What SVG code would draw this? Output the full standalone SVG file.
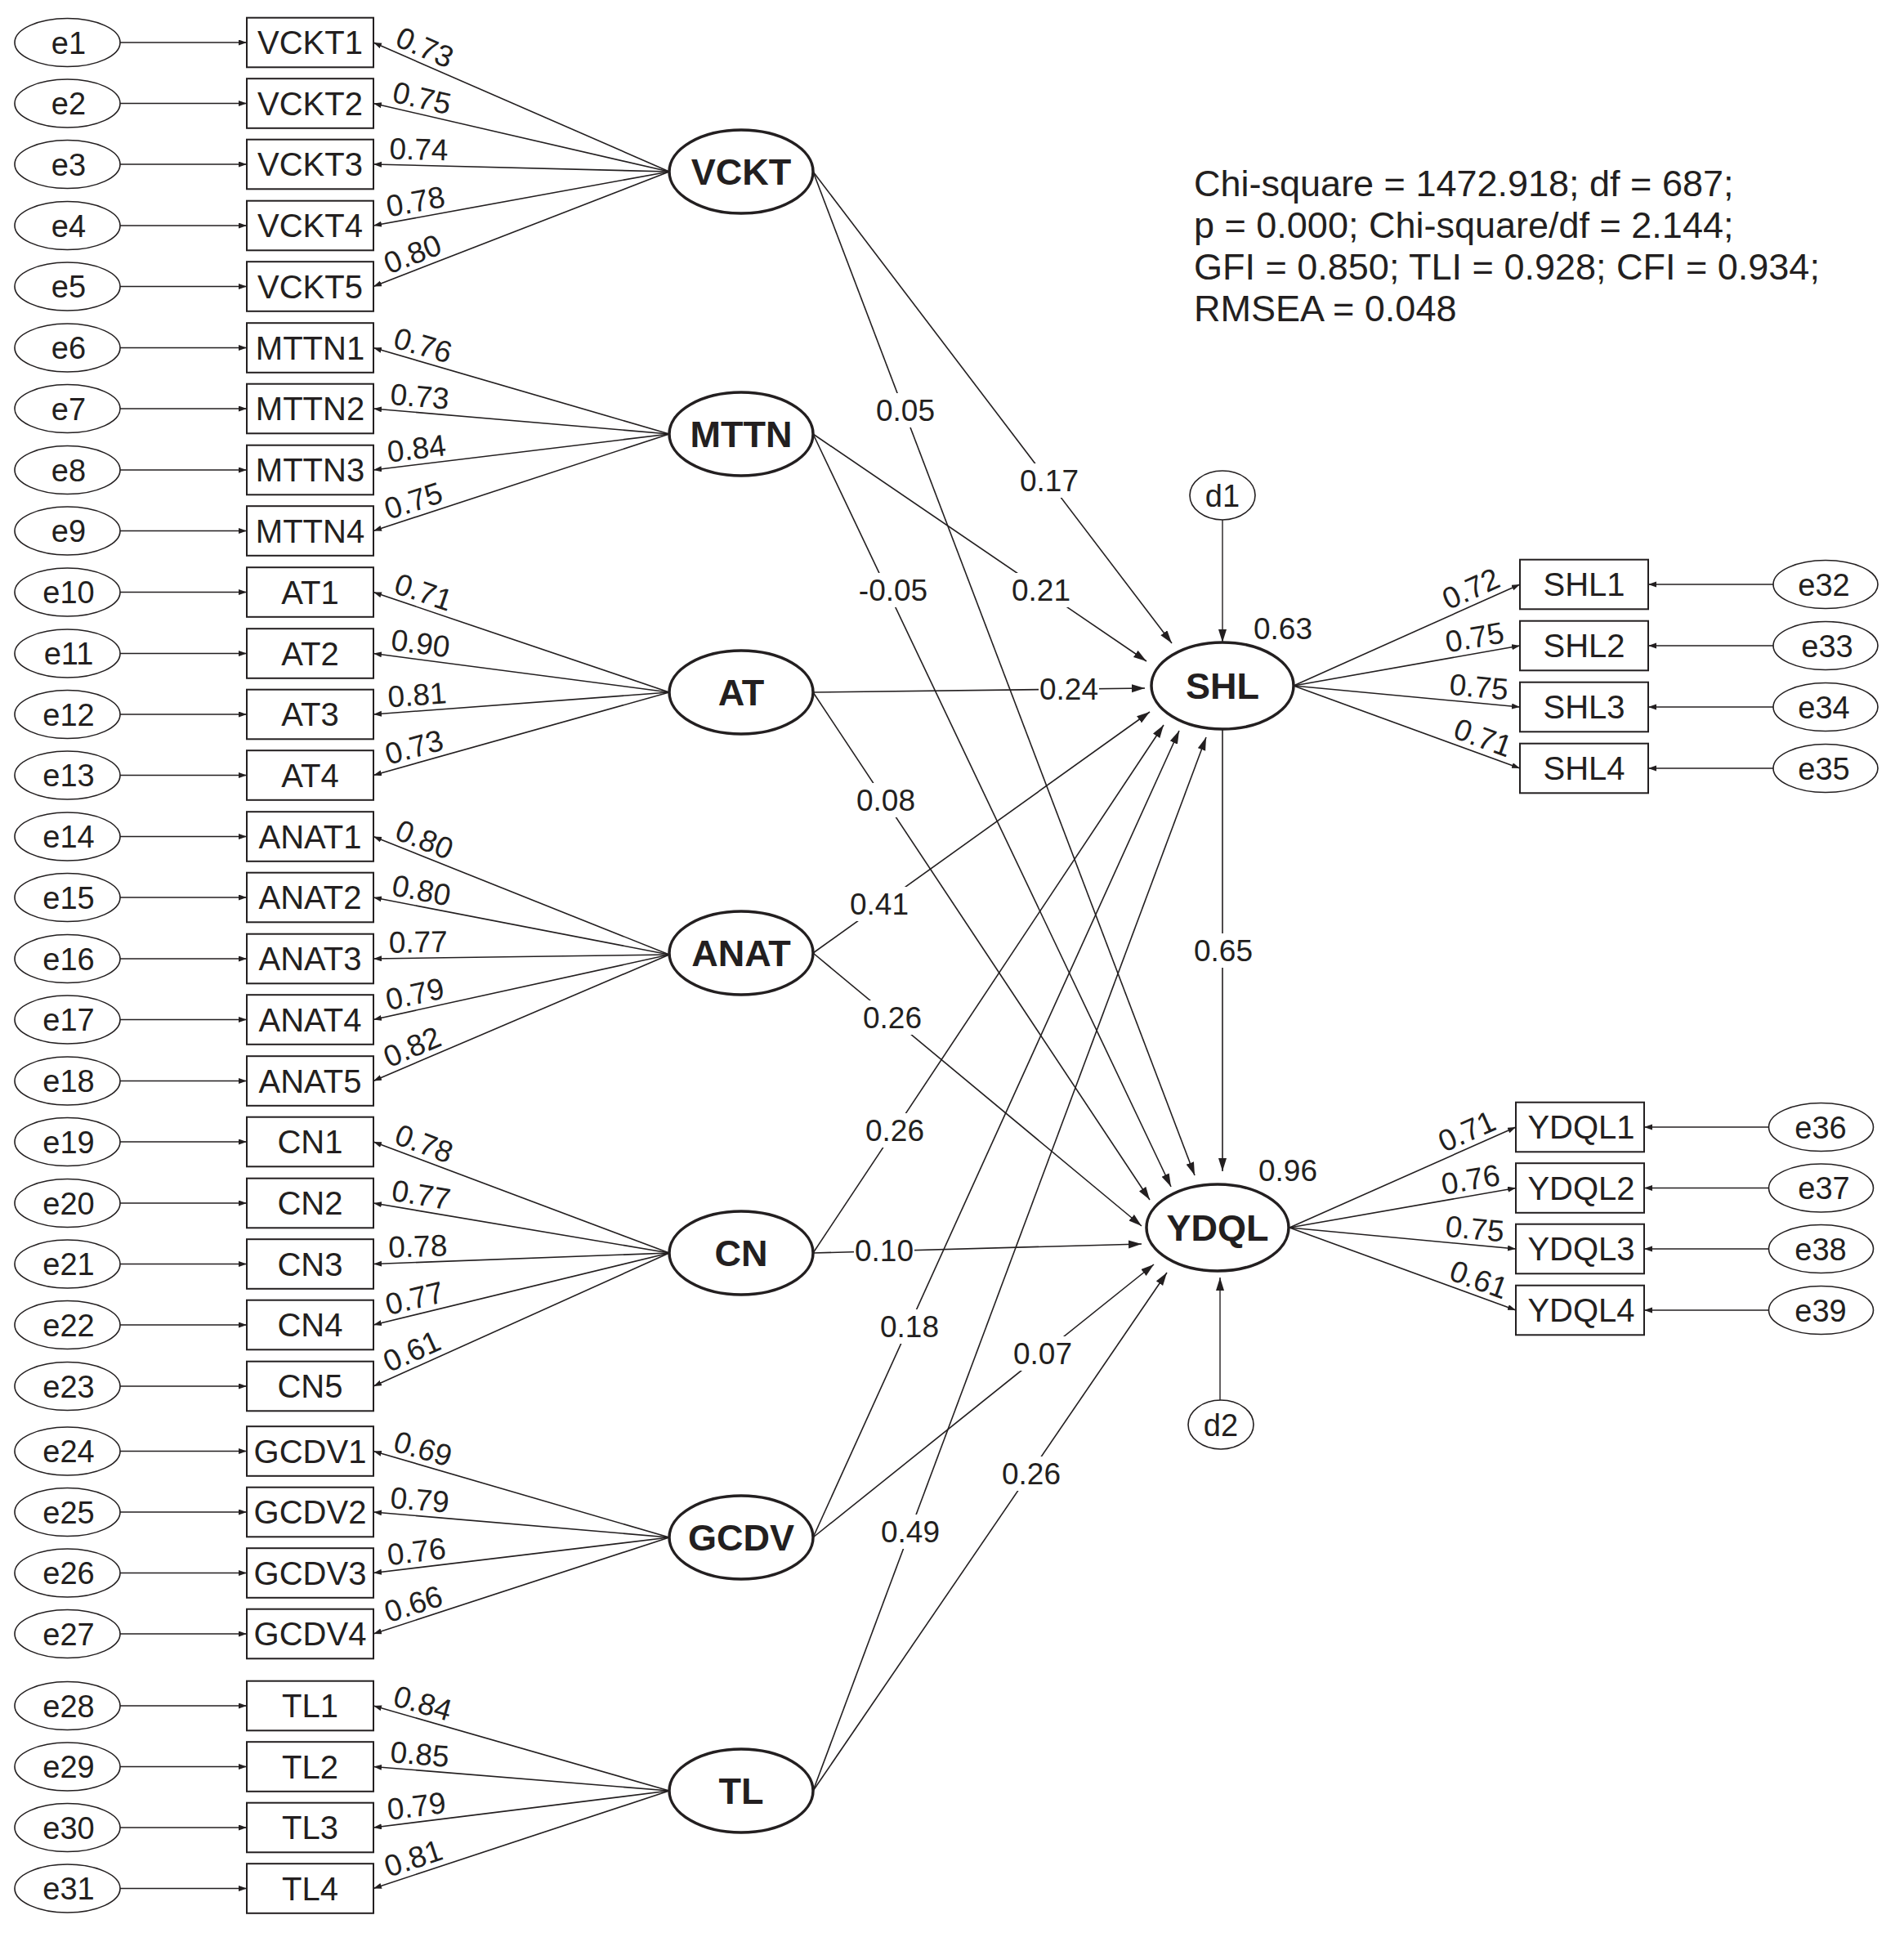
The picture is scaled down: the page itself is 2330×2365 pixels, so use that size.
<svg xmlns="http://www.w3.org/2000/svg" width="2330" height="2365" viewBox="0 0 2330 2365">
<style>
.box{fill:#fff;stroke:#231f20;stroke-width:2}
.err{fill:#fff;stroke:#231f20;stroke-width:1.6}
.lat{fill:#fff;stroke:#231f20;stroke-width:3.5}
.ln{fill:none;stroke:#231f20;stroke-width:1.6}
.sm{marker-end:url(#as)}
.lg{marker-end:url(#al)}
text{font-family:"Liberation Sans",Arial,sans-serif;fill:#231f20;text-anchor:middle}
.tb{font-size:40px}
.te{font-size:38px}
.tl{font-size:45px;font-weight:bold}
.ld{font-size:37px}
.fit text{font-size:45px;text-anchor:start}
.bg{fill:#fff}
</style>
<defs>
<marker id="as" markerUnits="userSpaceOnUse" markerWidth="12" markerHeight="8" refX="10" refY="3.5" orient="auto"><path d="M0,0 L10,3.5 L0,7 z" fill="#231f20"/></marker>
<marker id="al" markerUnits="userSpaceOnUse" markerWidth="18" markerHeight="12" refX="16" refY="5" orient="auto"><path d="M0,0 L16,5 L0,10 z" fill="#231f20"/></marker>
</defs>
<rect width="2330" height="2365" fill="#fff"/>

<g id="connectors">
<g class="ln sm">
<line x1="147" y1="52" x2="302" y2="52"/>
<line x1="147" y1="126.5" x2="302" y2="126.5"/>
<line x1="147" y1="201" x2="302" y2="201"/>
<line x1="147" y1="276" x2="302" y2="276"/>
<line x1="147" y1="350.5" x2="302" y2="350.5"/>
<line x1="147" y1="425.5" x2="302" y2="425.5"/>
<line x1="147" y1="500" x2="302" y2="500"/>
<line x1="147" y1="575" x2="302" y2="575"/>
<line x1="147" y1="649.5" x2="302" y2="649.5"/>
<line x1="147" y1="724.5" x2="302" y2="724.5"/>
<line x1="147" y1="799.5" x2="302" y2="799.5"/>
<line x1="147" y1="874" x2="302" y2="874"/>
<line x1="147" y1="948.5" x2="302" y2="948.5"/>
<line x1="147" y1="1023.5" x2="302" y2="1023.5"/>
<line x1="147" y1="1098" x2="302" y2="1098"/>
<line x1="147" y1="1173" x2="302" y2="1173"/>
<line x1="147" y1="1247.5" x2="302" y2="1247.5"/>
<line x1="147" y1="1322.5" x2="302" y2="1322.5"/>
<line x1="147" y1="1397" x2="302" y2="1397"/>
<line x1="147" y1="1472" x2="302" y2="1472"/>
<line x1="147" y1="1546.5" x2="302" y2="1546.5"/>
<line x1="147" y1="1621" x2="302" y2="1621"/>
<line x1="147" y1="1696" x2="302" y2="1696"/>
<line x1="147" y1="1775.5" x2="302" y2="1775.5"/>
<line x1="147" y1="1850" x2="302" y2="1850"/>
<line x1="147" y1="1924.5" x2="302" y2="1924.5"/>
<line x1="147" y1="1999" x2="302" y2="1999"/>
<line x1="147" y1="2087" x2="302" y2="2087"/>
<line x1="147" y1="2161.5" x2="302" y2="2161.5"/>
<line x1="147" y1="2236" x2="302" y2="2236"/>
<line x1="147" y1="2310.5" x2="302" y2="2310.5"/>
</g>
<g class="ln sm">
<line x1="819" y1="210" x2="457" y2="52"/>
<line x1="819" y1="210" x2="457" y2="126.5"/>
<line x1="819" y1="210" x2="457" y2="201"/>
<line x1="819" y1="210" x2="457" y2="276"/>
<line x1="819" y1="210" x2="457" y2="350.5"/>
<line x1="819" y1="531" x2="457" y2="425.5"/>
<line x1="819" y1="531" x2="457" y2="500"/>
<line x1="819" y1="531" x2="457" y2="575"/>
<line x1="819" y1="531" x2="457" y2="649.5"/>
<line x1="819" y1="847" x2="457" y2="724.5"/>
<line x1="819" y1="847" x2="457" y2="799.5"/>
<line x1="819" y1="847" x2="457" y2="874"/>
<line x1="819" y1="847" x2="457" y2="948.5"/>
<line x1="819" y1="1168" x2="457" y2="1023.5"/>
<line x1="819" y1="1168" x2="457" y2="1098"/>
<line x1="819" y1="1168" x2="457" y2="1173"/>
<line x1="819" y1="1168" x2="457" y2="1247.5"/>
<line x1="819" y1="1168" x2="457" y2="1322.5"/>
<line x1="819" y1="1533" x2="457" y2="1397"/>
<line x1="819" y1="1533" x2="457" y2="1472"/>
<line x1="819" y1="1533" x2="457" y2="1546.5"/>
<line x1="819" y1="1533" x2="457" y2="1621"/>
<line x1="819" y1="1533" x2="457" y2="1696"/>
<line x1="819" y1="1881" x2="457" y2="1775.5"/>
<line x1="819" y1="1881" x2="457" y2="1850"/>
<line x1="819" y1="1881" x2="457" y2="1924.5"/>
<line x1="819" y1="1881" x2="457" y2="1999"/>
<line x1="819" y1="2191" x2="457" y2="2087"/>
<line x1="819" y1="2191" x2="457" y2="2161.5"/>
<line x1="819" y1="2191" x2="457" y2="2236"/>
<line x1="819" y1="2191" x2="457" y2="2310.5"/>
</g>
<g class="ln sm">
<line x1="1583" y1="839" x2="1860" y2="715"/>
<line x1="1583" y1="839" x2="1860" y2="790"/>
<line x1="1583" y1="839" x2="1860" y2="865"/>
<line x1="1583" y1="839" x2="1860" y2="940"/>
<line x1="2170" y1="715" x2="2017" y2="715"/>
<line x1="2170" y1="790" x2="2017" y2="790"/>
<line x1="2170" y1="865" x2="2017" y2="865"/>
<line x1="2170" y1="940" x2="2017" y2="940"/>
<line x1="1578" y1="1502" x2="1855" y2="1379"/>
<line x1="1578" y1="1502" x2="1855" y2="1453.5"/>
<line x1="1578" y1="1502" x2="1855" y2="1528"/>
<line x1="1578" y1="1502" x2="1855" y2="1603"/>
<line x1="2164" y1="1379" x2="2012" y2="1379"/>
<line x1="2164" y1="1453.5" x2="2012" y2="1453.5"/>
<line x1="2164" y1="1528" x2="2012" y2="1528"/>
<line x1="2164" y1="1603" x2="2012" y2="1603"/>
</g>
<g class="ln lg">
<line x1="995" y1="210" x2="1434" y2="787"/>
<line x1="995" y1="210" x2="1462" y2="1438"/>
<line x1="995" y1="531" x2="1403" y2="809"/>
<line x1="995" y1="531" x2="1433" y2="1452"/>
<line x1="995" y1="847" x2="1401" y2="842"/>
<line x1="995" y1="847" x2="1407" y2="1468"/>
<line x1="995" y1="1166" x2="1407" y2="871"/>
<line x1="995" y1="1166" x2="1397" y2="1500"/>
<line x1="995" y1="1533" x2="1424" y2="887"/>
<line x1="995" y1="1533" x2="1397" y2="1522"/>
<line x1="995" y1="1881" x2="1443" y2="894"/>
<line x1="995" y1="1881" x2="1412" y2="1547"/>
<line x1="995" y1="2191" x2="1476" y2="902"/>
<line x1="995" y1="2191" x2="1428" y2="1557"/>
<line x1="1496" y1="892" x2="1496" y2="1433"/>
</g>
<g class="ln" style="marker-end:url(#al);stroke-width:1.4">
<line x1="1496" y1="636" x2="1496" y2="786"/>
<line x1="1493" y1="1713" x2="1493" y2="1563"/>
</g>
</g>

<g id="edge-labels">
<g class="ld">
<text transform="translate(512,76) rotate(23.58)" y="-7">0.73</text>
<text transform="translate(512,139.2) rotate(12.99)" y="-7">0.75</text>
<text transform="translate(512,202.4) rotate(1.42)" y="-7">0.74</text>
<text transform="translate(512,266) rotate(-10.33)" y="-7">0.78</text>
<text transform="translate(512,329.2) rotate(-21.21)" y="-7">0.80</text>
<text transform="translate(512,441.5) rotate(16.25)" y="-7">0.76</text>
<text transform="translate(512,504.7) rotate(4.89)" y="-7">0.73</text>
<text transform="translate(512,568.3) rotate(-6.93)" y="-7">0.84</text>
<text transform="translate(512,631.5) rotate(-18.12)" y="-7">0.75</text>
<text transform="translate(512,743.1) rotate(18.69)" y="-7">0.71</text>
<text transform="translate(512,806.7) rotate(7.48)" y="-7">0.90</text>
<text transform="translate(512,869.9) rotate(-4.27)" y="-7">0.81</text>
<text transform="translate(512,933.1) rotate(-15.66)" y="-7">0.73</text>
<text transform="translate(512,1045.5) rotate(21.76)" y="-7">0.80</text>
<text transform="translate(512,1108.6) rotate(10.94)" y="-7">0.80</text>
<text transform="translate(512,1172.2) rotate(-0.79)" y="-7">0.77</text>
<text transform="translate(512,1235.4) rotate(-12.39)" y="-7">0.79</text>
<text transform="translate(512,1299) rotate(-23.11)" y="-7">0.82</text>
<text transform="translate(512,1417.7) rotate(20.59)" y="-7">0.78</text>
<text transform="translate(512,1481.3) rotate(9.57)" y="-7">0.77</text>
<text transform="translate(512,1544.5) rotate(-2.14)" y="-7">0.78</text>
<text transform="translate(512,1607.6) rotate(-13.66)" y="-7">0.77</text>
<text transform="translate(512,1671.2) rotate(-24.24)" y="-7">0.61</text>
<text transform="translate(512,1791.5) rotate(16.25)" y="-7">0.69</text>
<text transform="translate(512,1854.7) rotate(4.89)" y="-7">0.79</text>
<text transform="translate(512,1917.9) rotate(-6.85)" y="-7">0.76</text>
<text transform="translate(512,1981.1) rotate(-18.05)" y="-7">0.66</text>
<text transform="translate(512,2102.8) rotate(16.03)" y="-7">0.84</text>
<text transform="translate(512,2166) rotate(4.66)" y="-7">0.85</text>
<text transform="translate(512,2229.2) rotate(-7.09)" y="-7">0.79</text>
<text transform="translate(512,2292.3) rotate(-18.27)" y="-7">0.81</text>
<text transform="translate(1808,738.3) rotate(-24.12)" y="-7">0.72</text>
<text transform="translate(1808,799.2) rotate(-10.03)" y="-7">0.75</text>
<text transform="translate(1808,860.1) rotate(5.36)" y="-7">0.75</text>
<text transform="translate(1808,921) rotate(20.04)" y="-7">0.71</text>
<text transform="translate(1803,1402.1) rotate(-23.94)" y="-7">0.71</text>
<text transform="translate(1803,1462.6) rotate(-9.93)" y="-7">0.76</text>
<text transform="translate(1803,1523.1) rotate(5.36)" y="-7">0.75</text>
<text transform="translate(1803,1584) rotate(20.04)" y="-7">0.61</text>
<text x="1570" y="782">0.63</text>
<text x="1576" y="1445">0.96</text>
</g>
<g class="ld">
<rect class="bg" x="1071" y="481" width="74" height="42"/><text x="1108" y="515">0.05</text>
<rect class="bg" x="1247" y="567" width="74" height="42"/><text x="1284" y="601">0.17</text>
<rect class="bg" x="1050" y="701" width="86" height="42"/><text x="1093" y="735">-0.05</text>
<rect class="bg" x="1237" y="701" width="74" height="42"/><text x="1274" y="735">0.21</text>
<rect class="bg" x="1271" y="822" width="74" height="42"/><text x="1308" y="856">0.24</text>
<rect class="bg" x="1047" y="958" width="74" height="42"/><text x="1084" y="992">0.08</text>
<rect class="bg" x="1039" y="1085" width="74" height="42"/><text x="1076" y="1119">0.41</text>
<rect class="bg" x="1055" y="1224" width="74" height="42"/><text x="1092" y="1258">0.26</text>
<rect class="bg" x="1058" y="1362" width="74" height="42"/><text x="1095" y="1396">0.26</text>
<rect class="bg" x="1045" y="1509" width="74" height="42"/><text x="1082" y="1543">0.10</text>
<rect class="bg" x="1076" y="1602" width="74" height="42"/><text x="1113" y="1636">0.18</text>
<rect class="bg" x="1239" y="1635" width="74" height="42"/><text x="1276" y="1669">0.07</text>
<rect class="bg" x="1225" y="1782" width="74" height="42"/><text x="1262" y="1816">0.26</text>
<rect class="bg" x="1077" y="1853" width="74" height="42"/><text x="1114" y="1887">0.49</text>
<rect class="bg" x="1460" y="1142" width="74" height="42"/><text x="1497" y="1176">0.65</text>
</g>
</g>

<g id="fit-indices" class="fit">
<text x="1461" y="240">Chi-square = 1472.918; df = 687;</text>
<text x="1461" y="291">p = 0.000; Chi-square/df = 2.144;</text>
<text x="1461" y="342">GFI = 0.850; TLI = 0.928; CFI = 0.934;</text>
<text x="1461" y="393">RMSEA = 0.048</text>
</g>

<g id="latents">
<g id="n-VCKT"><ellipse class="lat" cx="907" cy="210" rx="88" ry="51"/><text class="tl" x="907" y="226">VCKT</text></g>
<g id="n-MTTN"><ellipse class="lat" cx="907" cy="531" rx="88" ry="51"/><text class="tl" x="907" y="547">MTTN</text></g>
<g id="n-AT"><ellipse class="lat" cx="907" cy="847" rx="88" ry="51"/><text class="tl" x="907" y="863">AT</text></g>
<g id="n-ANAT"><ellipse class="lat" cx="907" cy="1166" rx="88" ry="51"/><text class="tl" x="907" y="1182">ANAT</text></g>
<g id="n-CN"><ellipse class="lat" cx="907" cy="1533" rx="88" ry="51"/><text class="tl" x="907" y="1549">CN</text></g>
<g id="n-GCDV"><ellipse class="lat" cx="907" cy="1881" rx="88" ry="51"/><text class="tl" x="907" y="1897">GCDV</text></g>
<g id="n-TL"><ellipse class="lat" cx="907" cy="2191" rx="88" ry="51"/><text class="tl" x="907" y="2207">TL</text></g>
<g id="n-SHL"><ellipse class="lat" cx="1496" cy="839" rx="87" ry="53"/><text class="tl" x="1496" y="855">SHL</text></g>
<g id="n-YDQL"><ellipse class="lat" cx="1490" cy="1502" rx="87" ry="53"/><text class="tl" x="1490" y="1518">YDQL</text></g>
<g id="n-d1"><ellipse class="err" cx="1496" cy="606" rx="40" ry="30"/><text class="te" x="1496" y="620">d1</text></g>
<g id="n-d2"><ellipse class="err" cx="1494" cy="1743" rx="40" ry="30"/><text class="te" x="1494" y="1757">d2</text></g>
</g>

<g id="indicators">
<g id="n-VCKT1"><rect class="box" x="302" y="21.7" width="155" height="60.6"/><text class="tb" x="379.5" y="66.3">VCKT1</text></g>
<g id="n-VCKT2"><rect class="box" x="302" y="96.2" width="155" height="60.6"/><text class="tb" x="379.5" y="140.8">VCKT2</text></g>
<g id="n-VCKT3"><rect class="box" x="302" y="170.7" width="155" height="60.6"/><text class="tb" x="379.5" y="215.3">VCKT3</text></g>
<g id="n-VCKT4"><rect class="box" x="302" y="245.7" width="155" height="60.6"/><text class="tb" x="379.5" y="290.3">VCKT4</text></g>
<g id="n-VCKT5"><rect class="box" x="302" y="320.2" width="155" height="60.6"/><text class="tb" x="379.5" y="364.8">VCKT5</text></g>
<g id="n-MTTN1"><rect class="box" x="302" y="395.2" width="155" height="60.6"/><text class="tb" x="379.5" y="439.8">MTTN1</text></g>
<g id="n-MTTN2"><rect class="box" x="302" y="469.7" width="155" height="60.6"/><text class="tb" x="379.5" y="514.3">MTTN2</text></g>
<g id="n-MTTN3"><rect class="box" x="302" y="544.7" width="155" height="60.6"/><text class="tb" x="379.5" y="589.3">MTTN3</text></g>
<g id="n-MTTN4"><rect class="box" x="302" y="619.2" width="155" height="60.6"/><text class="tb" x="379.5" y="663.8">MTTN4</text></g>
<g id="n-AT1"><rect class="box" x="302" y="694.2" width="155" height="60.6"/><text class="tb" x="379.5" y="738.8">AT1</text></g>
<g id="n-AT2"><rect class="box" x="302" y="769.2" width="155" height="60.6"/><text class="tb" x="379.5" y="813.8">AT2</text></g>
<g id="n-AT3"><rect class="box" x="302" y="843.7" width="155" height="60.6"/><text class="tb" x="379.5" y="888.3">AT3</text></g>
<g id="n-AT4"><rect class="box" x="302" y="918.2" width="155" height="60.6"/><text class="tb" x="379.5" y="962.8">AT4</text></g>
<g id="n-ANAT1"><rect class="box" x="302" y="993.2" width="155" height="60.6"/><text class="tb" x="379.5" y="1037.8">ANAT1</text></g>
<g id="n-ANAT2"><rect class="box" x="302" y="1067.7" width="155" height="60.6"/><text class="tb" x="379.5" y="1112.3">ANAT2</text></g>
<g id="n-ANAT3"><rect class="box" x="302" y="1142.7" width="155" height="60.6"/><text class="tb" x="379.5" y="1187.3">ANAT3</text></g>
<g id="n-ANAT4"><rect class="box" x="302" y="1217.2" width="155" height="60.6"/><text class="tb" x="379.5" y="1261.8">ANAT4</text></g>
<g id="n-ANAT5"><rect class="box" x="302" y="1292.2" width="155" height="60.6"/><text class="tb" x="379.5" y="1336.8">ANAT5</text></g>
<g id="n-CN1"><rect class="box" x="302" y="1366.7" width="155" height="60.6"/><text class="tb" x="379.5" y="1411.3">CN1</text></g>
<g id="n-CN2"><rect class="box" x="302" y="1441.7" width="155" height="60.6"/><text class="tb" x="379.5" y="1486.3">CN2</text></g>
<g id="n-CN3"><rect class="box" x="302" y="1516.2" width="155" height="60.6"/><text class="tb" x="379.5" y="1560.8">CN3</text></g>
<g id="n-CN4"><rect class="box" x="302" y="1590.7" width="155" height="60.6"/><text class="tb" x="379.5" y="1635.3">CN4</text></g>
<g id="n-CN5"><rect class="box" x="302" y="1665.7" width="155" height="60.6"/><text class="tb" x="379.5" y="1710.3">CN5</text></g>
<g id="n-GCDV1"><rect class="box" x="302" y="1745.2" width="155" height="60.6"/><text class="tb" x="379.5" y="1789.8">GCDV1</text></g>
<g id="n-GCDV2"><rect class="box" x="302" y="1819.7" width="155" height="60.6"/><text class="tb" x="379.5" y="1864.3">GCDV2</text></g>
<g id="n-GCDV3"><rect class="box" x="302" y="1894.2" width="155" height="60.6"/><text class="tb" x="379.5" y="1938.8">GCDV3</text></g>
<g id="n-GCDV4"><rect class="box" x="302" y="1968.7" width="155" height="60.6"/><text class="tb" x="379.5" y="2013.3">GCDV4</text></g>
<g id="n-TL1"><rect class="box" x="302" y="2056.7" width="155" height="60.6"/><text class="tb" x="379.5" y="2101.3">TL1</text></g>
<g id="n-TL2"><rect class="box" x="302" y="2131.2" width="155" height="60.6"/><text class="tb" x="379.5" y="2175.8">TL2</text></g>
<g id="n-TL3"><rect class="box" x="302" y="2205.7" width="155" height="60.6"/><text class="tb" x="379.5" y="2250.3">TL3</text></g>
<g id="n-TL4"><rect class="box" x="302" y="2280.2" width="155" height="60.6"/><text class="tb" x="379.5" y="2324.8">TL4</text></g>
<g id="n-SHL1"><rect class="box" x="1860" y="684.7" width="157" height="60.6"/><text class="tb" x="1938.5" y="729.3">SHL1</text></g>
<g id="n-SHL2"><rect class="box" x="1860" y="759.7" width="157" height="60.6"/><text class="tb" x="1938.5" y="804.3">SHL2</text></g>
<g id="n-SHL3"><rect class="box" x="1860" y="834.7" width="157" height="60.6"/><text class="tb" x="1938.5" y="879.3">SHL3</text></g>
<g id="n-SHL4"><rect class="box" x="1860" y="909.7" width="157" height="60.6"/><text class="tb" x="1938.5" y="954.3">SHL4</text></g>
<g id="n-YDQL1"><rect class="box" x="1855" y="1348.7" width="157" height="60.6"/><text class="tb" x="1935" y="1393.3">YDQL1</text></g>
<g id="n-YDQL2"><rect class="box" x="1855" y="1423.2" width="157" height="60.6"/><text class="tb" x="1935" y="1467.8">YDQL2</text></g>
<g id="n-YDQL3"><rect class="box" x="1855" y="1497.7" width="157" height="60.6"/><text class="tb" x="1935" y="1542.3">YDQL3</text></g>
<g id="n-YDQL4"><rect class="box" x="1855" y="1572.7" width="157" height="60.6"/><text class="tb" x="1935" y="1617.3">YDQL4</text></g>
</g>

<g id="errors" class="te">
<g id="n-e1"><ellipse class="err" cx="82.5" cy="52" rx="64.5" ry="29.5"/><text x="84" y="65.6">e1</text></g>
<g id="n-e2"><ellipse class="err" cx="82.5" cy="126.5" rx="64.5" ry="29.5"/><text x="84" y="140.1">e2</text></g>
<g id="n-e3"><ellipse class="err" cx="82.5" cy="201" rx="64.5" ry="29.5"/><text x="84" y="214.6">e3</text></g>
<g id="n-e4"><ellipse class="err" cx="82.5" cy="276" rx="64.5" ry="29.5"/><text x="84" y="289.6">e4</text></g>
<g id="n-e5"><ellipse class="err" cx="82.5" cy="350.5" rx="64.5" ry="29.5"/><text x="84" y="364.1">e5</text></g>
<g id="n-e6"><ellipse class="err" cx="82.5" cy="425.5" rx="64.5" ry="29.5"/><text x="84" y="439.1">e6</text></g>
<g id="n-e7"><ellipse class="err" cx="82.5" cy="500" rx="64.5" ry="29.5"/><text x="84" y="513.6">e7</text></g>
<g id="n-e8"><ellipse class="err" cx="82.5" cy="575" rx="64.5" ry="29.5"/><text x="84" y="588.6">e8</text></g>
<g id="n-e9"><ellipse class="err" cx="82.5" cy="649.5" rx="64.5" ry="29.5"/><text x="84" y="663.1">e9</text></g>
<g id="n-e10"><ellipse class="err" cx="82.5" cy="724.5" rx="64.5" ry="29.5"/><text x="84" y="738.1">e10</text></g>
<g id="n-e11"><ellipse class="err" cx="82.5" cy="799.5" rx="64.5" ry="29.5"/><text x="84" y="813.1">e11</text></g>
<g id="n-e12"><ellipse class="err" cx="82.5" cy="874" rx="64.5" ry="29.5"/><text x="84" y="887.6">e12</text></g>
<g id="n-e13"><ellipse class="err" cx="82.5" cy="948.5" rx="64.5" ry="29.5"/><text x="84" y="962.1">e13</text></g>
<g id="n-e14"><ellipse class="err" cx="82.5" cy="1023.5" rx="64.5" ry="29.5"/><text x="84" y="1037.1">e14</text></g>
<g id="n-e15"><ellipse class="err" cx="82.5" cy="1098" rx="64.5" ry="29.5"/><text x="84" y="1111.6">e15</text></g>
<g id="n-e16"><ellipse class="err" cx="82.5" cy="1173" rx="64.5" ry="29.5"/><text x="84" y="1186.6">e16</text></g>
<g id="n-e17"><ellipse class="err" cx="82.5" cy="1247.5" rx="64.5" ry="29.5"/><text x="84" y="1261.1">e17</text></g>
<g id="n-e18"><ellipse class="err" cx="82.5" cy="1322.5" rx="64.5" ry="29.5"/><text x="84" y="1336.1">e18</text></g>
<g id="n-e19"><ellipse class="err" cx="82.5" cy="1397" rx="64.5" ry="29.5"/><text x="84" y="1410.6">e19</text></g>
<g id="n-e20"><ellipse class="err" cx="82.5" cy="1472" rx="64.5" ry="29.5"/><text x="84" y="1485.6">e20</text></g>
<g id="n-e21"><ellipse class="err" cx="82.5" cy="1546.5" rx="64.5" ry="29.5"/><text x="84" y="1560.1">e21</text></g>
<g id="n-e22"><ellipse class="err" cx="82.5" cy="1621" rx="64.5" ry="29.5"/><text x="84" y="1634.6">e22</text></g>
<g id="n-e23"><ellipse class="err" cx="82.5" cy="1696" rx="64.5" ry="29.5"/><text x="84" y="1709.6">e23</text></g>
<g id="n-e24"><ellipse class="err" cx="82.5" cy="1775.5" rx="64.5" ry="29.5"/><text x="84" y="1789.1">e24</text></g>
<g id="n-e25"><ellipse class="err" cx="82.5" cy="1850" rx="64.5" ry="29.5"/><text x="84" y="1863.6">e25</text></g>
<g id="n-e26"><ellipse class="err" cx="82.5" cy="1924.5" rx="64.5" ry="29.5"/><text x="84" y="1938.1">e26</text></g>
<g id="n-e27"><ellipse class="err" cx="82.5" cy="1999" rx="64.5" ry="29.5"/><text x="84" y="2012.6">e27</text></g>
<g id="n-e28"><ellipse class="err" cx="82.5" cy="2087" rx="64.5" ry="29.5"/><text x="84" y="2100.6">e28</text></g>
<g id="n-e29"><ellipse class="err" cx="82.5" cy="2161.5" rx="64.5" ry="29.5"/><text x="84" y="2175.1">e29</text></g>
<g id="n-e30"><ellipse class="err" cx="82.5" cy="2236" rx="64.5" ry="29.5"/><text x="84" y="2249.6">e30</text></g>
<g id="n-e31"><ellipse class="err" cx="82.5" cy="2310.5" rx="64.5" ry="29.5"/><text x="84" y="2324.1">e31</text></g>
<g id="n-e32"><ellipse class="err" cx="2234" cy="715" rx="64" ry="29.5"/><text x="2232" y="728.6">e32</text></g>
<g id="n-e33"><ellipse class="err" cx="2234" cy="790" rx="64" ry="29.5"/><text x="2236" y="803.6">e33</text></g>
<g id="n-e34"><ellipse class="err" cx="2234" cy="865" rx="64" ry="29.5"/><text x="2232" y="878.6">e34</text></g>
<g id="n-e35"><ellipse class="err" cx="2234" cy="940" rx="64" ry="29.5"/><text x="2232" y="953.6">e35</text></g>
<g id="n-e36"><ellipse class="err" cx="2228.5" cy="1379" rx="64" ry="29.5"/><text x="2228" y="1392.6">e36</text></g>
<g id="n-e37"><ellipse class="err" cx="2228.5" cy="1453.5" rx="64" ry="29.5"/><text x="2232" y="1467.1">e37</text></g>
<g id="n-e38"><ellipse class="err" cx="2228.5" cy="1528" rx="64" ry="29.5"/><text x="2228" y="1541.6">e38</text></g>
<g id="n-e39"><ellipse class="err" cx="2228.5" cy="1603" rx="64" ry="29.5"/><text x="2228" y="1616.6">e39</text></g>
</g>
</svg>
